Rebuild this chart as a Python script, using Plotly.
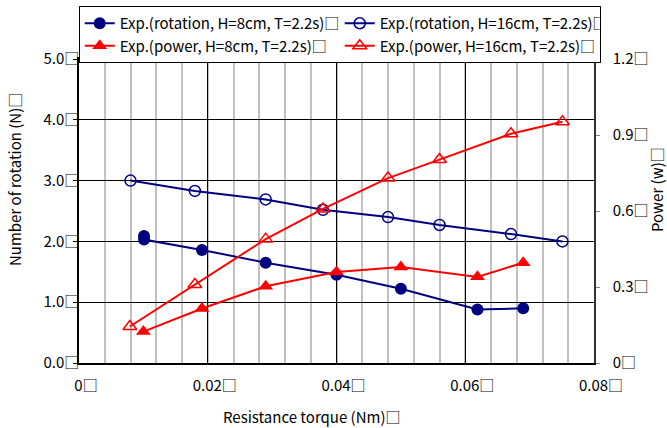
import plotly.graph_objects as go

# ---- data ----
torque_rot_8 = [0.0101, 0.0101, 0.0191, 0.0290, 0.0400, 0.0500, 0.0619, 0.0690]
rotation_8 = [2.09, 2.03, 1.86, 1.65, 1.45, 1.22, 0.88, 0.90]

torque_rot_16 = [0.0080, 0.0180, 0.0290, 0.0379, 0.0480, 0.0560, 0.0671, 0.0751]
rotation_16 = [3.00, 2.83, 2.69, 2.52, 2.40, 2.27, 2.12, 2.00]

torque_pow_8 = [0.0100, 0.0191, 0.0290, 0.0400, 0.0500, 0.0619, 0.0690]
power_8 = [0.124, 0.215, 0.303, 0.359, 0.379, 0.340, 0.396]

torque_pow_16 = [0.0079, 0.0180, 0.0290, 0.0379, 0.0480, 0.0560, 0.0671, 0.0751]
power_16 = [0.144, 0.310, 0.489, 0.608, 0.730, 0.803, 0.905, 0.952]

x_tickvals = [0, 0.02, 0.04, 0.06, 0.08]
x_ticktext = ["0□", "0.02□", "0.04□", "0.06□", "0.08□"]
y_tickvals = [0, 1, 2, 3, 4, 5]
y_ticktext = ["0.0□", "1.0□", "2.0□", "3.0□", "4.0□", "5.0□"]
y2_tickvals = [0, 0.3, 0.6, 0.9, 1.2]
y2_ticktext = ["0□", "0.3□", "0.6□", "0.9□", "1.2□"]

names = [
    "Exp.(rotation, H=8cm, T=2.2s)□",
    "Exp.(rotation, H=16cm, T=2.2s)□",
    "Exp.(power, H=8cm, T=2.2s)□",
    "Exp.(power, H=16cm, T=2.2s)□",
]
x_title = "Resistance torque (Nm)□"
y_title = "Number of rotation (N)□"
y2_title = "Power (w)□"

FONT = "Noto Sans CJK JP, Noto Sans, DejaVu Sans, sans-serif"
NAVY = "#000080"
RED = "#ff0000"

fig = go.Figure()
fig.add_trace(go.Scatter(
    x=torque_rot_8, y=rotation_8, name=names[0], mode="lines+markers",
    line=dict(color=NAVY, width=2),
    marker=dict(symbol="circle", size=12, color=NAVY),
))
fig.add_trace(go.Scatter(
    x=torque_rot_16, y=rotation_16, name=names[1], mode="lines+markers",
    line=dict(color=NAVY, width=2),
    marker=dict(symbol="circle-open", size=11, color=NAVY, line=dict(width=1.5)),
))
fig.add_trace(go.Scatter(
    x=torque_pow_8, y=power_8, name=names[2], mode="lines+markers", yaxis="y2",
    line=dict(color=RED, width=2),
    marker=dict(symbol="triangle-up", size=13, color=RED),
))
fig.add_trace(go.Scatter(
    x=torque_pow_16, y=power_16, name=names[3], mode="lines+markers", yaxis="y2",
    line=dict(color=RED, width=2),
    marker=dict(symbol="triangle-up-open", size=12, color=RED, line=dict(width=1.5)),
))

fig.update_layout(
    width=667, height=428,
    margin=dict(l=79, r=73, t=59, b=65, autoexpand=False),
    paper_bgcolor="white", plot_bgcolor="white",
    font=dict(family=FONT, size=15, color="black"),
    showlegend=True,
    legend=dict(
        orientation="h", x=-0.0005, xanchor="left", y=1 + (59 - 6.0) / 304, yanchor="top",
        entrywidth=215, entrywidthmode="pixels",
        bordercolor="black", borderwidth=1, bgcolor="white",
        font=dict(family=FONT, size=15, color="black"),
        itemwidth=30, tracegroupgap=0,
    ),
    xaxis=dict(
        range=[0, 0.08], tickmode="array", tickvals=x_tickvals, ticktext=x_ticktext,
        showgrid=True, gridcolor="black", gridwidth=1,
        minor=dict(tickmode="linear", tick0=0, dtick=0.004, showgrid=True,
                   gridcolor="#c0c0c0", gridwidth=1.5),
        showline=True, linecolor="black", linewidth=2, mirror=True,
        ticks="", zeroline=False, ticklabelshift=7, ticklabelstandoff=8,
        tickfont=dict(size=15),
    ),
    yaxis=dict(
        range=[0, 5], tickmode="array", tickvals=y_tickvals, ticktext=y_ticktext,
        showgrid=True, gridcolor="black", gridwidth=1,
        showline=True, linecolor="black", linewidth=1.5, mirror=True,
        ticks="outside", ticklen=4, tickcolor="black", zeroline=False,
        ticklabelstandoff=-9,
        tickfont=dict(size=15),
    ),
    yaxis2=dict(
        range=[0, 1.2], overlaying="y", side="right",
        tickmode="array", tickvals=y2_tickvals, ticktext=y2_ticktext,
        showgrid=False, showline=True, linecolor="#333333", linewidth=1.5,
        ticks="outside", ticklen=4, tickcolor="#888888", zeroline=False,
        ticklabelstandoff=10,
        tickfont=dict(size=15),
    ),
    annotations=[
        dict(text=x_title, xref="paper", yref="paper", x=(311 - 79) / 515,
             y=-(416 - 363) / 304,
             xanchor="center", yanchor="middle", showarrow=False,
             font=dict(family=FONT, size=15)),
        dict(text=y_title, xref="paper", yref="paper", x=(15 - 79) / 515, y=0.602,
             xanchor="center", yanchor="middle", textangle=-90, showarrow=False,
             font=dict(family=FONT, size=15)),
        dict(text=y2_title, xref="paper", yref="paper", x=1.0, y=0.569,
             xanchor="center", yanchor="middle", textangle=-90, showarrow=False,
             xshift=62, font=dict(family=FONT, size=15)),
    ],
)

# remove the browser's default 8 px body margin so the figure fills the window
fig.write_html("out.html", config={"displayModeBar": False},
               post_script="document.body.style.margin='0';")
